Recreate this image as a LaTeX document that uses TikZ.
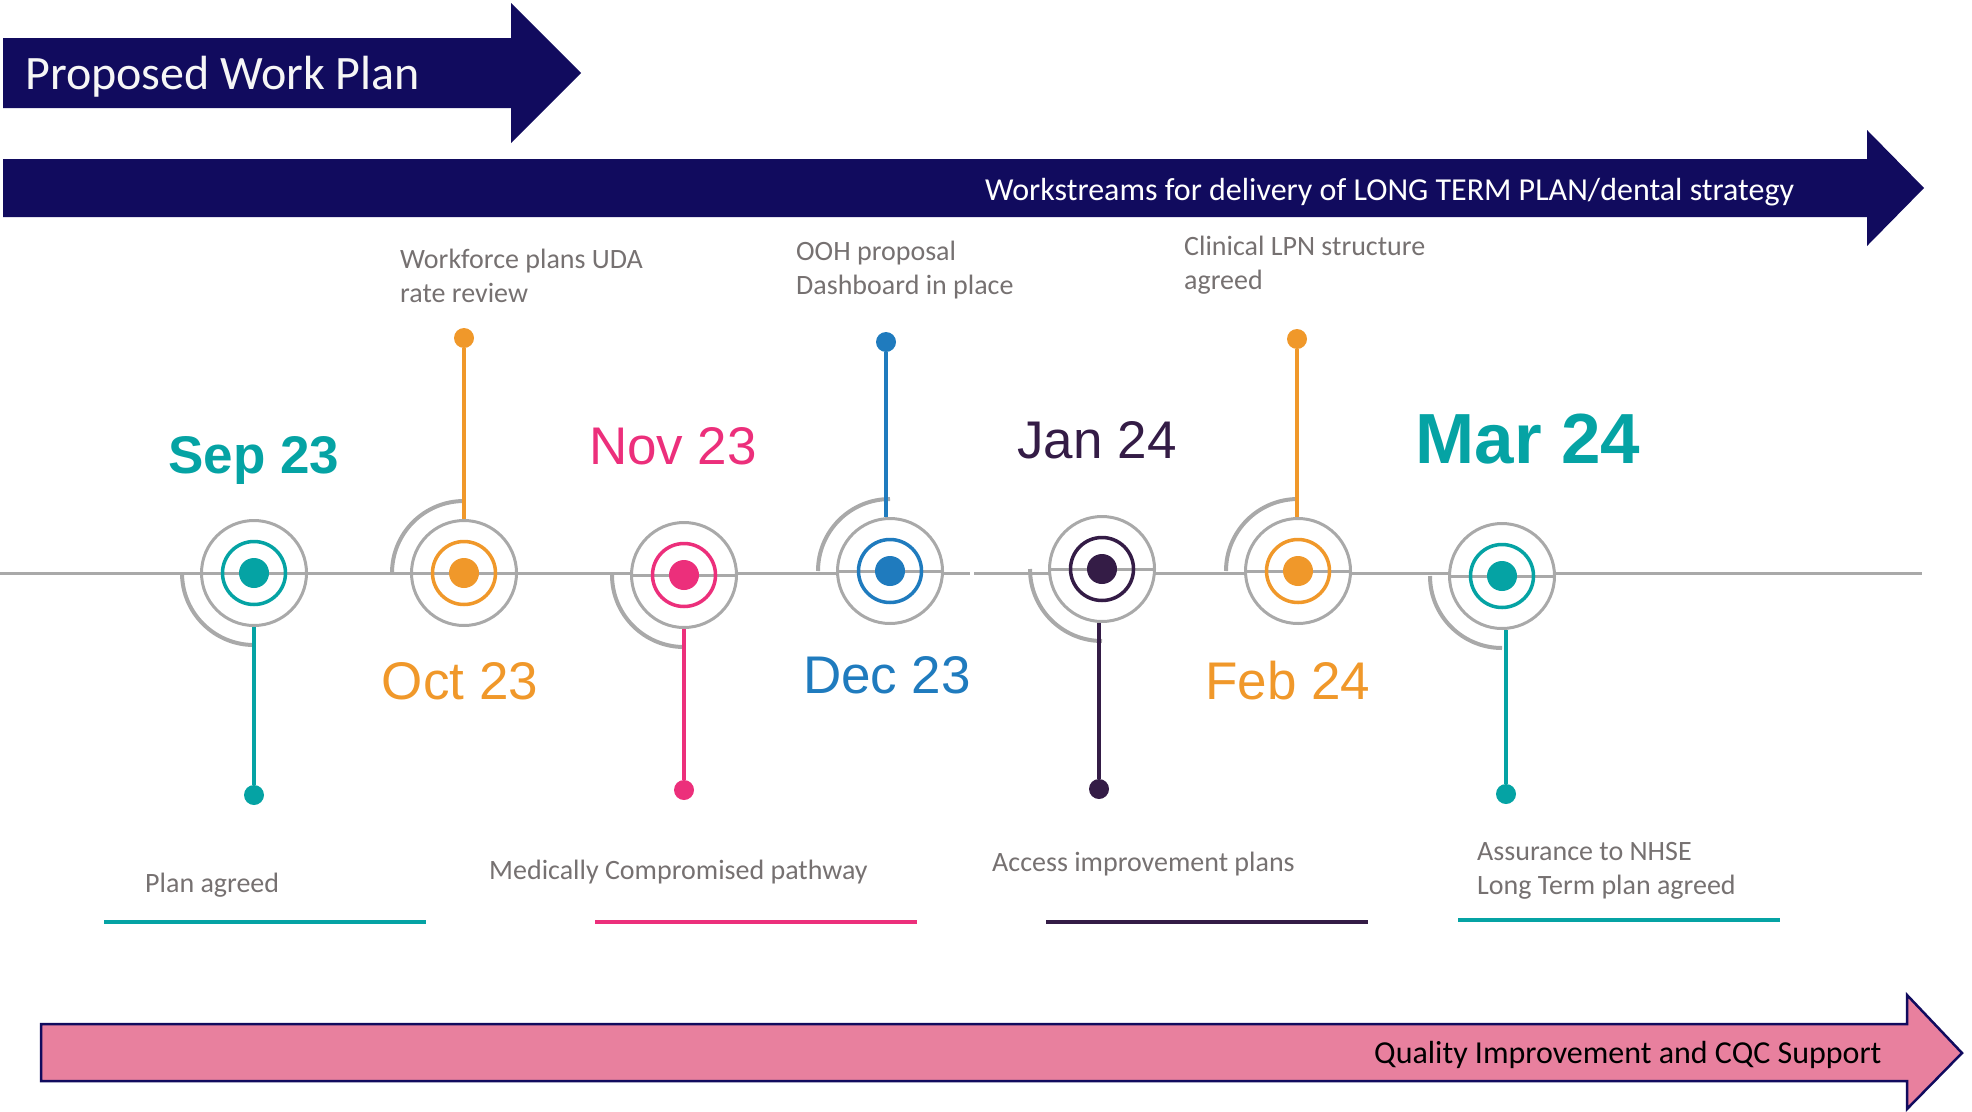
\documentclass[tikz,border=0pt]{standalone}
\usepackage{fontspec}
\setmainfont{Carlito}
\newfontfamily\arialf{Liberation Sans}
\definecolor{navy}{HTML}{110B5E}
\definecolor{tlgray}{HTML}{A9A9A9}
\definecolor{lblgray}{HTML}{767171}
\definecolor{cteal}{HTML}{05A3A4}
\definecolor{corange}{HTML}{F0982A}
\definecolor{cpink}{HTML}{EC2F7B}
\definecolor{cblue}{HTML}{1F7BBE}
\definecolor{cdark}{HTML}{341C46}
\definecolor{pinkfill}{HTML}{E8809E}
\tikzset{
  ring/.style={circle, draw=tlgray, line width=3pt, minimum size=105pt, inner sep=0pt},
  inring/.style={circle, line width=3.5pt, minimum size=63pt, inner sep=0pt},
  core/.style={circle, minimum size=30pt, inner sep=0pt},
  enddot/.style={circle, minimum size=20pt, inner sep=0pt},
  stem/.style={line width=3.5pt},
  swirl/.style={draw=tlgray, line width=4pt},
  datelbl/.style={font=\arialf\fontsize{53}{60}\selectfont, anchor=base, inner sep=0pt},
  tasklbl/.style={font=\fontsize{28}{34}\selectfont, text=lblgray, anchor=base west, align=left, inner sep=0pt},
  uline/.style={line width=4pt},
  bandtext/.style={anchor=base west, inner sep=0pt}
}
\begin{document}
\begin{tikzpicture}[x=1pt,y=-1pt]
\useasboundingbox (0,0) rectangle (1972,1111);
% banner arrows
\fill[navy] (3,38) -- (511,38) -- (511,3) -- (581,73) -- (511,143) -- (511,108) -- (3,108) -- cycle;
\node[bandtext, text=white!93!gray, font=\fontsize{48}{52}\selectfont] (title) at (25,89) {Proposed Work Plan};
\fill[navy] (3,159) -- (1867,159) -- (1867,130) -- (1924,188) -- (1867,246) -- (1867,217) -- (3,217) -- cycle;
\node[bandtext, text=white, font=\fontsize{32}{36}\selectfont] (ws) at (985,200) {Workstreams for delivery of LONG TERM PLAN/dental strategy};
\filldraw[fill=pinkfill, draw=navy, line width=2.5pt] (41,1024) -- (1907,1024) -- (1907,995) -- (1962,1053) -- (1907,1109) -- (1907,1081) -- (41,1081) -- cycle;
\node[bandtext, text=black, font=\fontsize{32}{36}\selectfont] (qi) at (1374,1063) {Quality Improvement and CQC Support};
% timeline
\draw[tlgray, line width=3pt] (0,573) -- (970,573);
\draw[tlgray, line width=3pt] (974,573) -- (1922,573);
% milestones
\foreach \n/\x/\y/\c/\dir in {a/254/573/cteal/1, b/464/573/corange/-1, c/684/575/cpink/1, d/890/571/cblue/-1, e/1102/569/cdark/1, f/1298/571/corange/-1, g/1502/576/cteal/1}{
  \node[ring, fill=white] (o\n) at (\x,\y) {};
  \draw[swirl] (o\n.center) ++(-72pt,0) arc[start angle=180, end angle=180+90*\dir, radius=72pt];
}
\draw[tlgray, line width=3pt] (oa.west) -- (oa.east) (ob.west) -- (ob.east) (oc.west) -- (oc.east) (od.west) -- (od.east) (oe.west) -- (oe.east) (of.west) -- (of.east) (og.west) -- (og.east);
\foreach \n/\c in {a/cteal, b/corange, c/cpink, d/cblue, e/cdark, f/corange, g/cteal}{
  \node[inring, draw=\c] (i\n) at (o\n) {};
  \node[core, fill=\c] (c\n) at (o\n) {};
}
% stems
\node[enddot, fill=cteal] (sa) at (254,795) {};
\node[enddot, fill=corange] (sb) at (464,338) {};
\node[enddot, fill=cpink] (sc) at (684,790) {};
\node[enddot, fill=cblue] (sd) at (886,342) {};
\node[enddot, fill=cdark] (se) at (1099,789) {};
\node[enddot, fill=corange] (sf) at (1297,339) {};
\node[enddot, fill=cteal] (sg) at (1506,794) {};
\draw[stem, cteal] (oa.south) -- (sa);
\draw[stem, corange] (sb) -- (sb |- ob.north);
\draw[stem, cpink] (oc.south) -- (sc);
\draw[stem, cblue] (sd) -- (sd |- od.north);
\draw[stem, cdark] (se |- oe.south) -- (se);
\draw[stem, corange] (sf) -- (sf |- of.north);
\draw[stem, cteal] (sg |- og.south) -- (sg);
% dates
\node[datelbl, font=\arialf\bfseries\fontsize{53}{60}\selectfont, text=cteal] (da) at (254,473) {Sep 23};
\node[datelbl, text=corange] (db) at (460,699) {Oct 23};
\node[datelbl, text=cpink] (dc) at (673,464) {Nov 23};
\node[datelbl, text=cblue] (dd) at (887,693) {Dec 23};
\node[datelbl, text=cdark] (de) at (1097,458) {Jan 24};
\node[datelbl, text=corange] (df) at (1288,699) {Feb 24};
\node[datelbl, font=\arialf\bfseries\fontsize{71}{80}\selectfont, text=cteal] (dg) at (1528,463) {Mar 24};
% task labels (anchor at baseline of last line)
\node[tasklbl] (tb) at (400,302) {Workforce plans UDA\\rate review};
\node[tasklbl] (td) at (796,294) {OOH proposal\\Dashboard in place};
\node[tasklbl] (tf) at (1184,289) {Clinical LPN structure\\agreed};
\node[tasklbl] (ta) at (145,892) {Plan agreed};
\node[tasklbl] (tc) at (489,879) {Medically Compromised pathway};
\node[tasklbl] (te) at (992,871) {Access improvement plans};
\node[tasklbl] (tg) at (1477,894) {Assurance to NHSE\\Long Term plan agreed};
% underlines
\coordinate (ua1) at (104,922); \coordinate (ua2) at (426,922);
\coordinate (uc1) at (595,922); \coordinate (uc2) at (917,922);
\coordinate (ue1) at (1046,922); \coordinate (ue2) at (1368,922);
\coordinate (ug1) at (1458,920); \coordinate (ug2) at (1780,920);
\draw[uline, cteal] (ua1) -- (ua2);
\draw[uline, cpink] (uc1) -- (uc2);
\draw[uline, cdark] (ue1) -- (ue2);
\draw[uline, cteal] (ug1) -- (ug2);
\end{tikzpicture}
\end{document}
